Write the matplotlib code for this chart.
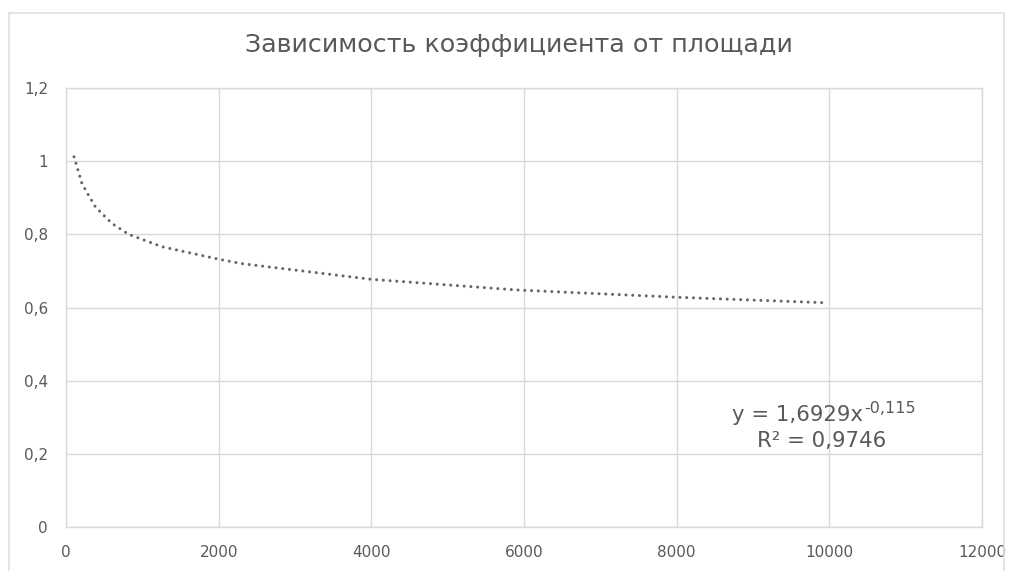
import matplotlib
matplotlib.use("Agg")
import matplotlib.pyplot as plt
from matplotlib.patches import Rectangle

# значения (пунктирная линия тренда)
area = [105, 210, 385, 600, 820, 1260, 2000, 2300, 4000, 5900, 8000, 9940]
coef = [1.012, 0.938, 0.875, 0.830, 0.800, 0.766, 0.732, 0.720, 0.677, 0.648, 0.628, 0.613]

x_ticks = [0, 2000, 4000, 6000, 8000, 10000, 12000]
y_ticks = [0, 0.2, 0.4, 0.6, 0.8, 1.0, 1.2]
y_labels = ["0", "0,2", "0,4", "0,6", "0,8", "1", "1,2"]

title = "Зависимость коэффициента от площади"
eq_main = "y = 1,6929x"
eq_pow = "-0,115"
r2_text = "R² = 0,9746"

grey_text = "#595959"
grid_col = "#d9d9d9"

fig = plt.figure(figsize=(10.19, 5.71), dpi=100)
W, H = 1019, 571

def px(x, y):
    # пиксели картинки -> координаты фигуры
    return x / W, 1 - y / H

# рамка области диаграммы
fig.patches.append(Rectangle((9 / W, -0.1), (1004 - 9) / W, 1.1 - 13 / H,
                             transform=fig.transFigure, fill=False,
                             edgecolor="#e0e0e0", linewidth=1.2))

ax = fig.add_axes([66 / W, 1 - 527 / H, (982 - 66) / W, (527 - 88) / H])
ax.plot(area, coef, color="#666666", linewidth=2.2,
        linestyle=(0, (0.01, 2.2)), dash_capstyle="round")

ax.set_xlim(0, 12000)
ax.set_ylim(0, 1.2)
ax.set_xticks(x_ticks)
ax.set_yticks(y_ticks)
ax.set_yticklabels(y_labels)
ax.grid(True, color=grid_col, linewidth=1.0)
ax.set_axisbelow(True)
for s in ax.spines.values():
    s.set_color(grid_col)
    s.set_linewidth(1.0)
ax.tick_params(length=0, labelsize=11, labelcolor=grey_text, pad=13)

fig.text(*px(519, 45), title, ha="center", va="center",
         fontsize=18.3, color=grey_text)

fig.text(*px(863, 421), eq_main, ha="right", va="baseline",
         fontsize=15.3, color=grey_text)
fig.text(*px(864, 413), eq_pow, ha="left", va="baseline",
         fontsize=11.5, color=grey_text)
fig.text(*px(822, 447), r2_text, ha="center", va="baseline",
         fontsize=15.3, color=grey_text)

fig.savefig("out.png", dpi=100, facecolor="white")
